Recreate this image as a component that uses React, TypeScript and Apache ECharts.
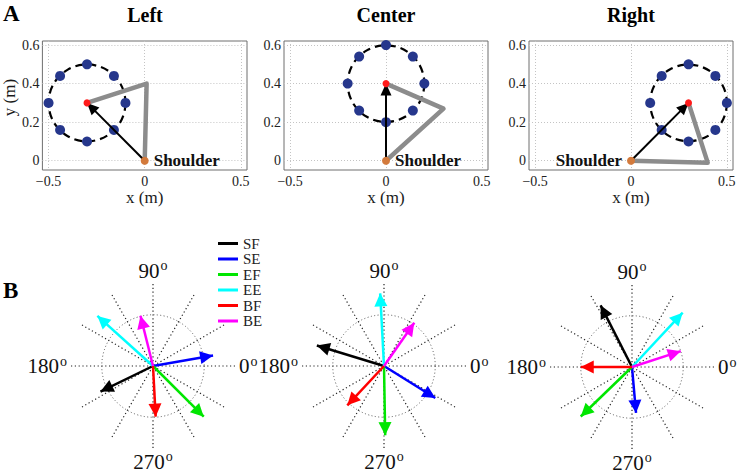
import React, { useEffect, useRef } from 'react';
import * as echarts from 'echarts';

// ---------- Panel A data ----------
const panelTitles = ['Left', 'Center', 'Right'];
const xTickValues = [-0.5, 0, 0.5];
const yTickValues = [0, 0.2, 0.4, 0.6];
const shoulder = [0, 0];

const leftTargets = [[-0.5, 0.3], [-0.44, 0.44], [-0.3, 0.5], [-0.16, 0.44], [-0.1, 0.3], [-0.16, 0.16], [-0.3, 0.1], [-0.44, 0.16]];
const centerTargets = [[-0.2, 0.4], [-0.14, 0.54], [0, 0.6], [0.14, 0.54], [0.2, 0.4], [0.14, 0.26], [0, 0.2], [-0.14, 0.26]];
const rightTargets = [[0.1, 0.3], [0.16, 0.44], [0.3, 0.5], [0.44, 0.44], [0.5, 0.3], [0.44, 0.16], [0.3, 0.1], [0.16, 0.16]];

const leftCircle = [-0.3, 0.3, 0.2];
const centerCircle = [0, 0.4, 0.2];
const rightCircle = [0.3, 0.3, 0.2];

const leftElbow = [0.01, 0.4];
const centerElbow = [0.3, 0.27];
const rightElbow = [0.4, -0.01];

const leftHand = [-0.3, 0.3];
const centerHand = [0, 0.4];
const rightHand = [0.3, 0.3];

// ---------- Panel B data ----------
const jointNames = ['SF', 'SE', 'EF', 'EE', 'BF', 'BE'];
const jointColors = ['#000000', '#0000ff', '#00e600', '#00ffff', '#ff0000', '#ff00ff'];
const leftAngles = [206, 10, 315, 138, 273, 104];
const leftMags = [1.14, 1.19, 1.4, 1.46, 0.99, 1.01];
const centerAngles = [163, 328, 271, 93, 227, 55];
const centerMags = [1.37, 1.18, 1.35, 1.42, 1.05, 1.03];
const rightAngles = [117, 275, 224, 47, 180, 18];
const rightMags = [1.35, 0.9, 1.39, 1.45, 1.0, 1.0];
const compassLabelValues = [0, 90, 180, 270];

const SERIF = '"Liberation Serif", "Times New Roman", serif';
const ARROW = 'path://M5 0 M5 12 L10 24 L0 24 Z';

const grids = [
  { left: 42, top: 41, width: 205, height: 129, cx: 145 },
  { left: 284, top: 41, width: 204, height: 129, cx: 386 },
  { left: 529, top: 41, width: 204, height: 129, cx: 631 },
];
const polarCenters = [[153, 366], [384, 366], [632, 367]];

function panelSeries(i: number, targets: number[][], circle: number[], elbow: number[], hand: number[], side: string) {
  const rot = (Math.atan2(hand[1] - shoulder[1], hand[0] - shoulder[0]) * 180) / Math.PI - 90;
  return [
    {
      type: 'custom',
      xAxisIndex: i,
      yAxisIndex: i,
      silent: true,
      z: 2,
      data: [circle],
      encode: { x: 0, y: 1 },
      renderItem: (_p: any, api: any) => {
        const c = api.coord([api.value(0), api.value(1)]);
        const s = api.size([api.value(2), api.value(2)]);
        return {
          type: 'circle',
          shape: { cx: c[0], cy: c[1], r: s[0] },
          style: { fill: 'none', stroke: '#000', lineWidth: 2.2, lineDash: [8, 5] },
        };
      },
    },
    {
      type: 'scatter',
      xAxisIndex: i,
      yAxisIndex: i,
      z: 3,
      data: targets,
      symbolSize: 10,
      itemStyle: { color: '#26378c', opacity: 1 },
    },
    {
      type: 'line',
      xAxisIndex: i,
      yAxisIndex: i,
      z: 4,
      data: [shoulder, elbow, hand],
      symbol: 'none',
      lineStyle: { color: '#8c8c8c', width: 4.5, join: 'round' },
    },
    {
      type: 'line',
      xAxisIndex: i,
      yAxisIndex: i,
      z: 5,
      data: [
        { value: shoulder, symbol: 'none' },
        { value: hand, symbol: ARROW, symbolSize: [11, 24], symbolRotate: rot },
      ],
      lineStyle: { color: '#000', width: 2 },
      itemStyle: { color: '#000', borderWidth: 0, opacity: 1 },
    },
    {
      type: 'scatter',
      xAxisIndex: i,
      yAxisIndex: i,
      z: 6,
      data: [hand],
      symbolSize: 7,
      itemStyle: { color: '#ff1a1a', opacity: 1 },
    },
    {
      type: 'scatter',
      xAxisIndex: i,
      yAxisIndex: i,
      z: 7,
      data: [shoulder],
      symbolSize: 8,
      itemStyle: { color: '#d37a3c', opacity: 1 },
      label: {
        show: true,
        formatter: 'Shoulder',
        position: side,
        distance: 5,
        fontFamily: SERIF,
        fontWeight: 'bold',
        fontSize: 17,
        color: '#111',
        opacity: 1,
      },
    },
  ];
}

function compassSeries(k: number, angles: number[], mags: number[]) {
  return jointNames.map((name, j) => ({
    type: 'line',
    coordinateSystem: 'polar',
    polarIndex: k,
    name,
    z: 5,
    data: [
      { value: [0, angles[j]], symbol: 'none' },
      { value: [mags[j], angles[j]], symbol: ARROW, symbolSize: [13, 26], symbolRotate: angles[j] - 90 },
    ],
    lineStyle: { color: jointColors[j], width: 2.5 },
    itemStyle: { color: jointColors[j], borderWidth: 0, opacity: 1 },
  }));
}

const xFmt = (v: number) => (v < 0 ? '\u2212' + Math.abs(v) : String(v));

export default function App() {
  const ref = useRef<HTMLDivElement>(null);
  useEffect(() => {
    if (!ref.current) return;
    const chart = echarts.init(ref.current, null, { renderer: 'svg' });
    const option: any = {
      animation: false,
      backgroundColor: '#ffffff',
      textStyle: { fontFamily: SERIF },
      grid: grids.map((g) => ({
        left: g.left,
        top: g.top,
        width: g.width,
        height: g.height,
        show: true,
        borderColor: '#6e6e6e',
        borderWidth: 1,
        containLabel: false,
      })),
      xAxis: grids.map((_g, i) => ({
        gridIndex: i,
        type: 'value',
        min: -0.532,
        max: 0.532,
        name: 'x (m)',
        nameLocation: 'middle',
        nameGap: 17,
        nameTextStyle: { fontFamily: SERIF, fontSize: 17, color: '#1a1a1a' },
        axisLine: { show: false },
        axisTick: { show: false, customValues: xTickValues },
        axisLabel: { customValues: xTickValues, formatter: xFmt, margin: 4, fontFamily: SERIF, fontSize: 14, color: '#222' },
        splitLine: { show: true, lineStyle: { color: '#c4c4c4', width: 1, type: [1, 2] } },
      })),
      yAxis: grids.map((_g, i) => ({
        gridIndex: i,
        type: 'value',
        min: -0.048,
        max: 0.621,
        name: i === 0 ? 'y (m)' : '',
        nameLocation: 'middle',
        nameGap: 23,
        nameTextStyle: { fontFamily: SERIF, fontSize: 17, color: '#1a1a1a', padding: [0, 0, 0, 16] },
        axisLine: { show: false },
        axisTick: { show: false, customValues: yTickValues },
        axisLabel: { customValues: yTickValues, margin: 3, fontFamily: SERIF, fontSize: 14, color: '#222' },
        splitLine: { show: true, lineStyle: { color: '#c4c4c4', width: 1, type: [1, 2] } },
      })),
      polar: polarCenters.map((c) => ({ center: c, radius: 82 })),
      angleAxis: polarCenters.map((_c, k) => ({
        polarIndex: k,
        type: 'value',
        min: 0,
        max: 360,
        interval: 30,
        startAngle: 0,
        clockwise: false,
        axisLine: { show: false },
        axisTick: { show: false },
        splitLine: { show: true, lineStyle: { color: '#222', width: 1.2, type: [1.2, 2.6] } },
        axisLabel: {
          show: true,
          margin: 4,
          formatter: (v: number) => (compassLabelValues.indexOf(v) >= 0 ? `{n|${v}}{s|o}` : ''),
          rich: {
            n: { fontSize: 21, lineHeight: 19, fontFamily: SERIF, color: '#111' },
            s: { fontSize: 14, lineHeight: 8, fontFamily: SERIF, color: '#111', padding: [0, 0, 10, 1] },
          },
        },
      })),
      radiusAxis: polarCenters.map((_c, k) => ({
        polarIndex: k,
        type: 'value',
        min: 0,
        max: 1.6,
        interval: 1,
        axisLine: { show: false },
        axisTick: { show: false },
        axisLabel: { show: false },
        splitLine: {
          show: true,
          lineStyle: { color: ['rgba(0,0,0,0)', '#555', 'rgba(0,0,0,0)'], width: 1, type: [1, 2.4] },
        },
      })),
      legend: {
        data: jointNames,
        orient: 'vertical',
        left: 218,
        top: 236,
        padding: 0,
        itemWidth: 20,
        itemHeight: 3,
        itemGap: 0.5,
        icon: 'rect',
        selectedMode: false,
        textStyle: { fontFamily: SERIF, fontSize: 15, lineHeight: 14, color: '#222' },
      },
      graphic: [
        {
          type: 'text',
          x: 3,
          y: 13,
          style: { text: 'A', font: `bold 23px ${SERIF}`, fill: '#000', align: 'left', textAlign: 'left', verticalAlign: 'middle', textVerticalAlign: 'middle' },
        },
        {
          type: 'text',
          x: 3,
          y: 290,
          style: { text: 'B', font: `bold 23px ${SERIF}`, fill: '#000', align: 'left', textAlign: 'left', verticalAlign: 'middle', textVerticalAlign: 'middle' },
        },
        ...panelTitles.map((t, i) => ({
          type: 'text',
          x: grids[i].cx,
          y: 15,
          style: { text: t, font: `bold 20px ${SERIF}`, fill: '#000', align: 'center', textAlign: 'center', verticalAlign: 'middle', textVerticalAlign: 'middle' },
        })),
      ],
      series: [
        ...panelSeries(0, leftTargets, leftCircle, leftElbow, leftHand, 'right'),
        ...panelSeries(1, centerTargets, centerCircle, centerElbow, centerHand, 'right'),
        ...panelSeries(2, rightTargets, rightCircle, rightElbow, rightHand, 'left'),
        ...compassSeries(0, leftAngles, leftMags),
        ...compassSeries(1, centerAngles, centerMags),
        ...compassSeries(2, rightAngles, rightMags),
      ],
    };
    chart.setOption(option);
    return () => chart.dispose();
  }, []);
  return <div ref={ref} style={{ position: 'fixed', left: 0, top: 0, width: 745, height: 475 }} />;
}
